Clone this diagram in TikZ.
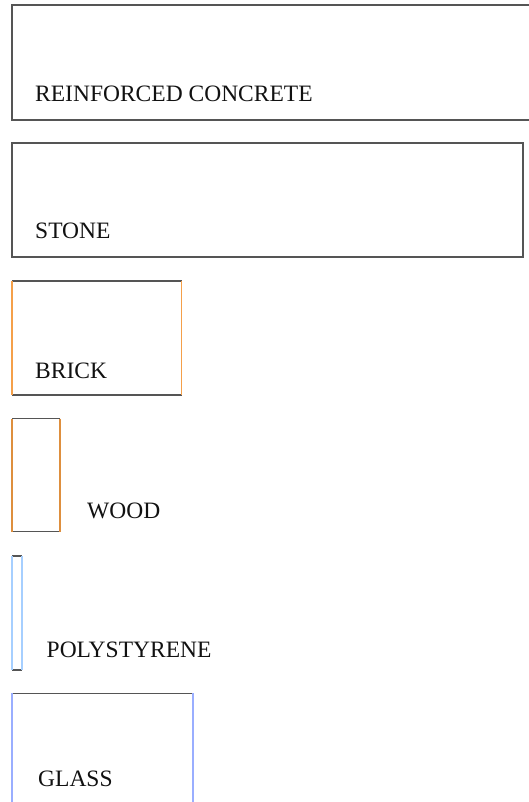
\documentclass[tikz,border=0pt]{standalone}
\usepackage{fontspec}
\setmainfont{Liberation Serif}
\definecolor{edgegray}{HTML}{555555}
\definecolor{brickc}{HTML}{F5A04A}
\definecolor{woodc}{HTML}{DE8F3E}
\definecolor{polyc}{HTML}{A6CFFF}
\definecolor{glassc}{HTML}{9AAEFF}
\definecolor{txt}{HTML}{111111}
\tikzset{
  lbl/.style={anchor=base west, inner sep=0pt, font=\fontsize{23.5}{26}\selectfont, text=txt},
  hedge/.style={draw=edgegray, line width=1.4pt},
  vedge/.style={line width=1.3pt},
}
\begin{document}
\begin{tikzpicture}[x=1pt,y=1pt]
\useasboundingbox (0,0) rectangle (529,-802);
\clip (0,0) rectangle (529,-802);
% Reinforced concrete
\draw[hedge] (540,-5) -- (12,-5) -- (12,-120) -- (540,-120);
\node[lbl] (rc) at (35,-101.7) {REINFORCED CONCRETE};
% Stone
\draw[hedge] (12,-143) rectangle (523,-257);
\node[lbl] (stone) at (35,-238) {STONE};
% Brick
\draw[hedge] (12,-281) -- (181.5,-281);
\draw[hedge] (12,-395) -- (181.5,-395);
\draw[vedge, draw=brickc] (12,-281) -- (12,-395);
\draw[vedge, draw=brickc] (181.5,-281) -- (181.5,-395);
\node[lbl] (brick) at (35,-378.3) {BRICK};
% Wood
\draw[hedge] (12,-418.5) -- (60,-418.5);
\draw[hedge] (12,-531.7) -- (60,-531.7);
\draw[vedge, draw=woodc] (12,-418.5) -- (12,-531.7);
\draw[vedge, draw=woodc] (60,-418.5) -- (60,-531.7);
\node[lbl] (wood) at (87,-518.3) {WOOD};
% Polystyrene
\draw[hedge] (12,-556) -- (22,-556);
\draw[hedge] (12,-670) -- (22,-670);
\draw[vedge, draw=polyc] (12,-556) -- (12,-670);
\draw[vedge, draw=polyc] (22,-556) -- (22,-670);
\node[lbl] (poly) at (46.5,-657.3) {POLYSTYRENE};
% Glass
\draw[hedge] (12,-693.3) -- (193,-693.3);
\draw[vedge, draw=glassc] (12,-693.3) -- (12,-810);
\draw[vedge, draw=glassc] (193,-693.3) -- (193,-810);
\node[lbl] (glass) at (38,-786) {GLASS};
\end{tikzpicture}
\end{document}
